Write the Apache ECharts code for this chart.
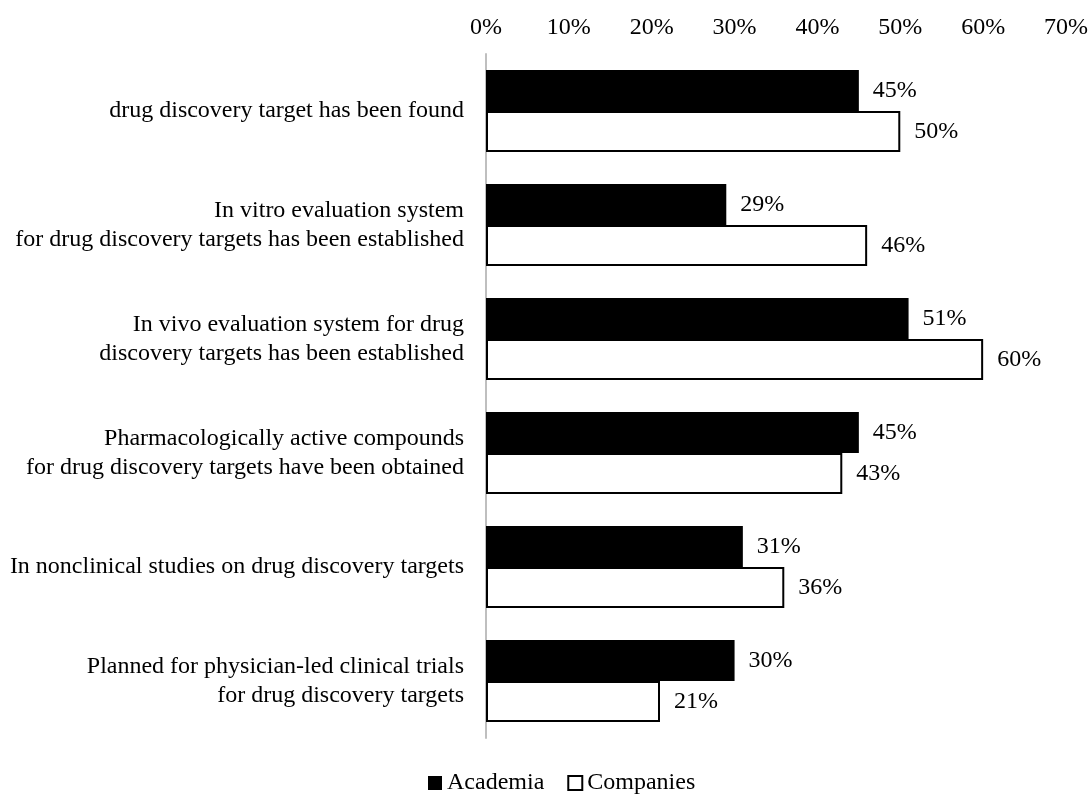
<!DOCTYPE html>
<html>
<head>
<meta charset="utf-8">
<style>
  html, body { margin: 0; padding: 0; background: #fff; }
  #chart { width: 1091px; height: 801px; }
</style>
<script src="https://cdn.jsdelivr.net/npm/echarts@6/dist/echarts.min.js"></script>
</head>
<body>
<div id="chart"></div>
<script>
// Stage reached for drug discovery targets, share of respondents (%)
const categories = [
  'drug discovery target has been found',
  'In vitro evaluation system\nfor drug discovery targets has been established',
  'In vivo evaluation system for drug\ndiscovery targets has been established',
  'Pharmacologically active compounds\nfor drug discovery targets have been obtained',
  'In nonclinical studies on drug discovery targets',
  'Planned for physician-led clinical trials\nfor drug discovery targets'
];
const academia = [45, 29, 51, 45, 31, 30];
const companies = [50, 46, 60, 43, 36, 21];
const seriesNames = ['Academia', 'Companies'];

const FONT = '"Liberation Serif", "Times New Roman", serif';
const chart = echarts.init(document.getElementById('chart'), null, { renderer: 'canvas' });

const valueLabel = {
  show: true,
  position: 'right',
  distance: 14,
  formatter: '{c}%',
  color: '#000',
  fontFamily: FONT,
  fontSize: 24
};

chart.setOption({
  backgroundColor: '#fff',
  animation: false,
  textStyle: { fontFamily: FONT, color: '#000' },
  grid: { left: 486, right: 24, top: 54, bottom: 63, containLabel: false },
  xAxis: {
    type: 'value',
    position: 'top',
    min: 0,
    max: 70,
    interval: 10,
    axisLine: { show: false },
    axisTick: { show: false },
    splitLine: { show: false },
    axisLabel: {
      formatter: '{value}%',
      margin: 14,
      color: '#000',
      fontFamily: FONT,
      fontSize: 24
    }
  },
  yAxis: {
    type: 'category',
    data: categories,
    inverse: true,
    axisTick: { show: false },
    axisLine: { show: true, lineStyle: { color: '#bfbfbf', width: 2 } },
    axisLabel: {
      margin: 22,
      align: 'right',
      color: '#000',
      fontFamily: FONT,
      fontSize: 24,
      lineHeight: 29
    }
  },
  legend: {
    top: 766,
    left: 423,
    itemWidth: 14,
    itemHeight: 14,
    itemGap: 23,
    icon: 'rect',
    textStyle: { fontFamily: FONT, fontSize: 24, color: '#000' },
    data: seriesNames
  },
  series: [
    {
      name: seriesNames[0],
      type: 'bar',
      data: academia,
      barGap: '0%',
      barCategoryGap: '28%',
      itemStyle: { color: '#000' },
      label: valueLabel
    },
    {
      name: seriesNames[1],
      type: 'bar',
      data: companies,
      barGap: '0%',
      barCategoryGap: '28%',
      itemStyle: { color: '#fff', borderColor: '#000', borderWidth: 2 },
      label: valueLabel
    }
  ]
});
</script>
</body>
</html>
